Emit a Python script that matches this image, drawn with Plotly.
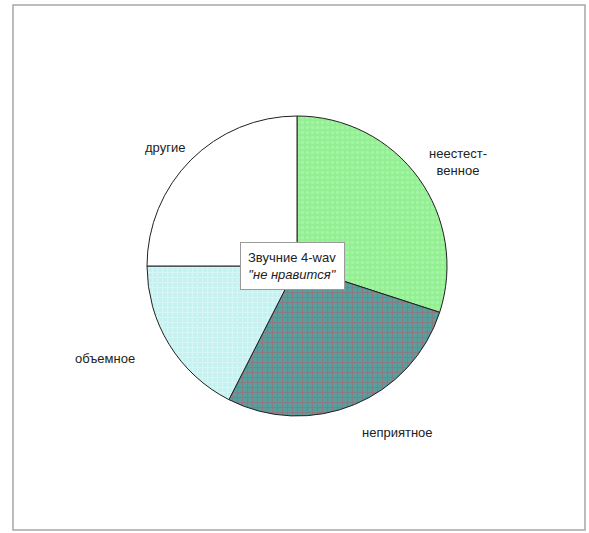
import plotly.graph_objects as go

labels = ["неестест-<br>венное", "неприятное", "объемное", "другие"]
values = [30, 27.5, 17.5, 25]
colors_bg = ["#92ef92", "#55a09e", "#c6f1f1", "#ffffff"]
colors_fg = ["#b8f8b8", "#c05566", "#e6fbfb", "#ffffff"]
shapes_p = [".", "+", "+", ""]

W, H = 589, 533
cx, cy, r = 297, 266, 150

fig = go.Figure(go.Pie(
    labels=labels, values=values, sort=False, direction="clockwise", rotation=0,
    textinfo="none", hoverinfo="label+value", showlegend=False,
    marker=dict(colors=colors_bg, line=dict(color="#202020", width=1),
                pattern=dict(shape=shapes_p, fgcolor=colors_fg, bgcolor=colors_bg,
                             size=5, solidity=0.4, fillmode="overlay")),
    domain=dict(x=[(cx - r) / W, (cx + r) / W], y=[1 - (cy + r) / H, 1 - (cy - r) / H]),
))

lab_font = dict(family="Liberation Sans, Arial, sans-serif", size=13, color="#222222")
pos = [(458, 162), (397, 432), (105, 358), (165, 147)]
anns = []
for lab, (x, y) in zip(labels, pos):
    anns.append(dict(text=lab, x=x / W, y=1 - y / H, xref="paper", yref="paper",
                     showarrow=False, font=lab_font, align="center",
                     xanchor="center", yanchor="middle"))
anns.append(dict(text="Звучние 4-wav<br><i>\"не нравится\"</i>", x=292 / W, y=1 - 266 / H,
                 xref="paper", yref="paper", showarrow=False,
                 font=dict(family="Liberation Sans, Arial, sans-serif", size=13, color="#222222"),
                 bgcolor="#ffffff", bordercolor="#9a9a9a", borderwidth=1, borderpad=7,
                 xanchor="center", yanchor="middle"))

fig.update_layout(
    width=W, height=H, autosize=False, margin=dict(l=0, r=0, t=0, b=0),
    paper_bgcolor="#ffffff", plot_bgcolor="#ffffff",
    annotations=anns,
    shapes=[dict(type="rect", xref="paper", yref="paper", x0=13 / W, x1=585 / W,
                 y0=1 - 530 / H, y1=1 - 5 / H, line=dict(color="#a8a8a8", width=1.5))],
)
fig.write_html("out.html", config={"displayModeBar": False},
               post_script="document.body.style.margin='0';document.body.style.overflow='hidden';")
